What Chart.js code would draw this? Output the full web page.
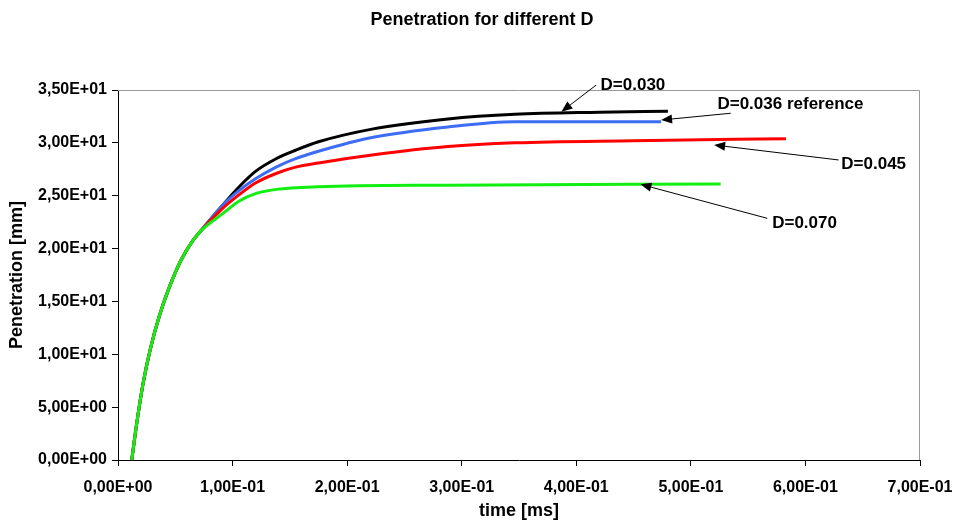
<!DOCTYPE html>
<html>
<head>
<meta charset="utf-8">
<script src="https://cdn.jsdelivr.net/npm/chart.js@4"></script>
<style>
  body { margin: 0; background: #fff; }
  canvas { display: block; }
</style>
</head>
<body>
<canvas id="penChart" width="953" height="524"></canvas>
<script>
  // shared rise part (all four curves overlap here)
  const riseT = [0.012, 0.016, 0.022, 0.028, 0.036, 0.045, 0.055, 0.065, 0.0725];
  const riseY = [0, 3.2, 7.3, 10.4, 13.6, 16.4, 18.9, 20.7, 21.7];

  // D=0.030
  const d030T = [0.0913, 0.1058, 0.120, 0.138, 0.155, 0.175, 0.2217, 0.288, 0.3464, 0.420, 0.480];
  const d030Y = [24.1, 25.85, 27.3, 28.5, 29.3, 30.1, 31.3, 32.26, 32.7, 32.9, 33.0];
  // D=0.036 reference
  const d036T = [0.0913, 0.1058, 0.120, 0.138, 0.155, 0.175, 0.2217, 0.288, 0.3464, 0.474];
  const d036Y = [24.1, 25.5, 26.6, 27.7, 28.5, 29.2, 30.5, 31.5, 32.0, 32.0];
  // D=0.045
  const d045T = [0.0913, 0.1058, 0.120, 0.138, 0.155, 0.175, 0.2217, 0.288, 0.3464, 0.450, 0.583];
  const d045Y = [23.8, 25.1, 26.2, 27.1, 27.7, 28.1, 28.85, 29.65, 30.0, 30.2, 30.4];
  // D=0.070
  const d070T = [0.0913, 0.1058, 0.120, 0.138, 0.175, 0.289, 0.526];
  const d070Y = [23.3, 24.5, 25.2, 25.6, 25.85, 26.0, 26.1];

  const seriesNames = ['D=0.030', 'D=0.036 reference', 'D=0.045', 'D=0.070'];
  const seriesColors = ['#000000', '#3d6cf5', '#ff0000', '#11ee11'];

  // label anchor, arrow tail and arrow head, all in (t, mm)
  const labelPos = [[0.4212, 35.45], [0.5232, 33.65], [0.6313, 27.97], [0.5710, 22.39]];
  const arrowTail = [[0.4174, 35.47], [0.5348, 32.80], [0.6290, 28.38], [0.5667, 22.86]];
  const arrowHead = [[0.3870, 32.95], [0.4740, 32.16], [0.5203, 29.80], [0.4560, 26.08]];

  const titleText = 'Penetration for different D';

  function pts(ts, ys) {
    return ts.map((t, i) => ({ x: t, y: ys[i] }));
  }

  function sci(v) {
    if (Math.abs(v) < 1e-12) return '0,00E+00';
    let e = Math.floor(Math.log10(Math.abs(v)));
    let m = (v / Math.pow(10, e)).toFixed(2);
    if (m === '10.00') { m = '1.00'; e += 1; }
    const sign = e < 0 ? '-' : '+';
    const ee = String(Math.abs(e)).padStart(2, '0');
    return m.replace('.', ',') + 'E' + sign + ee;
  }

  const tails = [[d030T, d030Y], [d036T, d036Y], [d045T, d045Y], [d070T, d070Y]];

  const datasets = tails.map((s, i) => ({
    label: seriesNames[i],
    data: pts(riseT.concat(s[0]), riseY.concat(s[1])),
    borderColor: seriesColors[i],
    borderWidth: 3,
    pointRadius: 0,
    fill: false,
    cubicInterpolationMode: 'monotone'
  })).reverse();

  const fontFam = '"Liberation Sans", Arial, sans-serif';

  const frame = {
    id: 'frame',
    beforeDatasetsDraw(chart) {
      const a = chart.chartArea, ctx = chart.ctx;
      ctx.save();
      ctx.strokeStyle = '#9a9a9a';
      ctx.lineWidth = 1;
      ctx.beginPath();
      ctx.moveTo(a.left, a.top + 0.5);
      ctx.lineTo(a.right - 0.5, a.top + 0.5);
      ctx.lineTo(a.right - 0.5, a.bottom);
      ctx.stroke();
      ctx.restore();
    }
  };

  const arrows = {
    id: 'arrows',
    afterDraw(chart) {
      const xs = chart.scales.x, ys = chart.scales.y, ctx = chart.ctx;
      ctx.save();
      ctx.fillStyle = '#000';
      ctx.strokeStyle = '#000';
      ctx.lineWidth = 1;

      // chart title
      ctx.font = 'bold 18px ' + fontFam;
      ctx.textAlign = 'center';
      ctx.textBaseline = 'middle';
      ctx.fillText(titleText, 482, 20);

      ctx.font = 'bold 17px ' + fontFam;
      ctx.textAlign = 'left';
      seriesNames.forEach((name, i) => {
        const tx = xs.getPixelForValue(arrowTail[i][0]), ty = ys.getPixelForValue(arrowTail[i][1]);
        const hx = xs.getPixelForValue(arrowHead[i][0]), hy = ys.getPixelForValue(arrowHead[i][1]);
        const ang = Math.atan2(hy - ty, hx - tx);
        const len = 11, wid = 4.5;
        const bx = hx - len * Math.cos(ang), by = hy - len * Math.sin(ang);
        ctx.beginPath();
        ctx.moveTo(tx, ty);
        ctx.lineTo(bx, by);
        ctx.stroke();
        ctx.beginPath();
        ctx.moveTo(hx, hy);
        ctx.lineTo(bx + wid * Math.sin(ang), by - wid * Math.cos(ang));
        ctx.lineTo(bx - wid * Math.sin(ang), by + wid * Math.cos(ang));
        ctx.closePath();
        ctx.fill();
        ctx.fillText(name, xs.getPixelForValue(labelPos[i][0]), ys.getPixelForValue(labelPos[i][1]));
      });
      ctx.restore();
    }
  };

  new Chart(document.getElementById('penChart'), {
    type: 'line',
    data: { datasets: datasets },
    options: {
      responsive: false,
      animation: false,
      layout: { padding: { left: 0, right: 33, top: 90, bottom: 0 } },
      plugins: {
        legend: { display: false },
        tooltip: { enabled: false },
        title: { display: false }
      },
      scales: {
        x: {
          type: 'linear',
          min: 0,
          max: 0.7,
          afterFit(scale) {
            scale.height = 64;
            scale.paddingLeft = 0;
            scale.paddingRight = 0;
          },
          border: { color: '#000', width: 1 },
          grid: { drawOnChartArea: false, drawTicks: true, tickLength: 6, color: '#000' },
          ticks: {
            stepSize: 0.1,
            color: '#000',
            padding: 12,
            maxRotation: 0,
            font: { family: fontFam, size: 16, weight: 'bold' },
            callback: v => sci(v)
          },
          title: {
            display: true,
            text: 'time [ms]',
            color: '#000',
            font: { family: fontFam, size: 18, weight: 'bold' },
            padding: { top: 2, bottom: 2 }
          }
        },
        y: {
          min: 0,
          max: 35,
          afterFit(scale) { scale.width = 118; },
          border: { color: '#000', width: 1 },
          grid: { drawOnChartArea: false, drawTicks: true, tickLength: 6, color: '#000' },
          ticks: {
            stepSize: 5,
            color: '#000',
            padding: 5,
            font: { family: fontFam, size: 16, weight: 'bold' },
            callback: v => sci(v)
          },
          title: {
            display: true,
            text: 'Penetration [mm]',
            color: '#000',
            font: { family: fontFam, size: 18, weight: 'bold' },
            padding: { top: 6, bottom: 4 }
          }
        }
      }
    },
    plugins: [frame, arrows]
  });
</script>
</body>
</html>
